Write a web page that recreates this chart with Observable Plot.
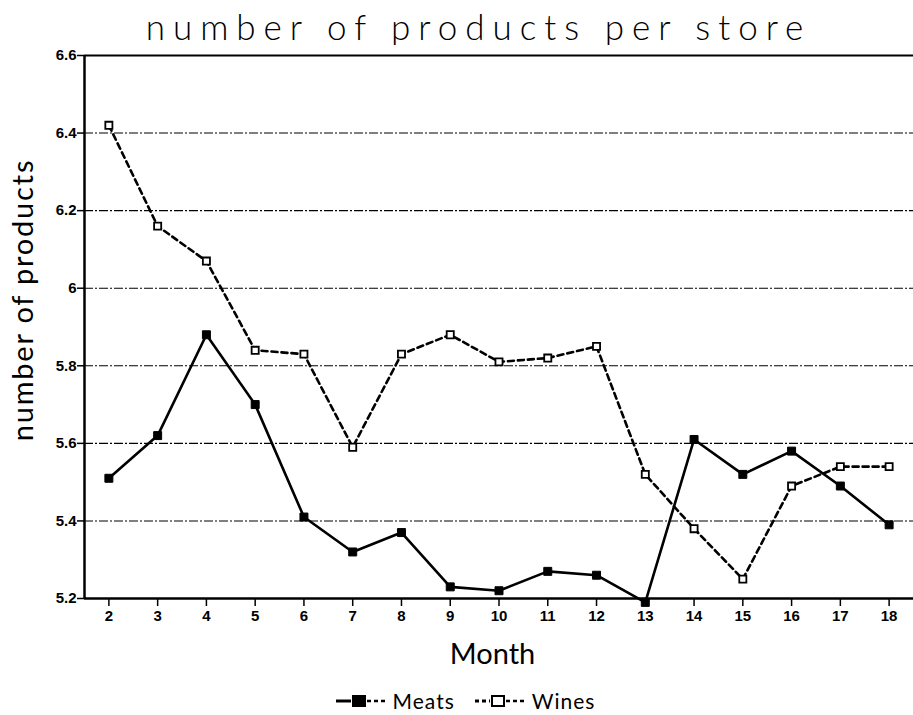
<!DOCTYPE html>
<html>
<head>
<meta charset="utf-8">
<script src="https://cdn.jsdelivr.net/npm/d3@7"></script>
<script src="https://cdn.jsdelivr.net/npm/@observablehq/plot@0.6"></script>
<style>
  body { margin: 0; background: #fff; }
  #wrap { position: relative; width: 913px; height: 715px; overflow: hidden; background: #fff; }
  #title { position: absolute; left: 0; top: 4px; width: 913px; text-align: center; font-family: Lato, "DejaVu Sans", sans-serif; font-weight: 300; font-size: 35px; letter-spacing: 8px; line-height: 44px; transform: translateX(22px); color: #000; }
  #chart { position: absolute; left: 0; top: 45px; }
  #ylabel { position: absolute; left: -178px; top: 283px; width: 400px; height: 34px; line-height: 34px; text-align: center; font-family: Lato, "DejaVu Sans", sans-serif; font-weight: 400; font-size: 29px; letter-spacing: 1.8px; transform: rotate(-90deg); color: #000; }
  #xlabel { position: absolute; left: 0; top: 636px; width: 913px; text-align: center; font-family: Lato, "DejaVu Sans", sans-serif; font-weight: 400; font-size: 29px; line-height: 34px; transform: translateX(36px); color: #000; }
  #legend { position: absolute; left: 0; top: 688px; width: 913px; display: flex; justify-content: center; align-items: center; gap: 6px; font-family: Lato, "DejaVu Sans", sans-serif; font-size: 21px; letter-spacing: 1px; transform: translateX(8px); color: #000; }
  #legend span.item { display: inline-flex; align-items: center; gap: 5px; }
</style>
</head>
<body>
<div id="wrap">
  <div id="title">number of products per store</div>
  <div id="chart"></div>
  <div id="ylabel"></div>
  <div id="xlabel">Month</div>
  <div id="legend"></div>
</div>
<script>
const months = [2, 3, 4, 5, 6, 7, 8, 9, 10, 11, 12, 13, 14, 15, 16, 17, 18];
const meats = [5.51, 5.62, 5.88, 5.70, 5.41, 5.32, 5.37, 5.23, 5.22, 5.27, 5.26, 5.19, 5.61, 5.52, 5.58, 5.49, 5.39];
const wines = [6.42, 6.16, 6.07, 5.84, 5.83, 5.59, 5.83, 5.88, 5.81, 5.82, 5.85, 5.52, 5.38, 5.25, 5.49, 5.54, 5.54];
const yTicks = [5.2, 5.4, 5.6, 5.8, 6.0, 6.2, 6.4, 6.6];
const gridTicks = [5.4, 5.6, 5.8, 6.0, 6.2, 6.4];
const seriesNames = ["Meats", "Wines"];
const yLabel = "number of products";

const meatData = months.map((m, i) => ({month: m, value: meats[i]}));
const wineData = months.map((m, i) => ({month: m, value: wines[i]}));

const tickFont = '"Liberation Sans Narrow", "Liberation Sans", Arial, sans-serif';

const chart = Plot.plot({
  width: 913,
  height: 585,
  marginTop: 10,
  marginBottom: 32,
  marginLeft: 84,
  marginRight: 0,
  x: {domain: [1.5, 18.5]},
  y: {domain: [5.2, 6.6]},
  style: {background: "#fff", color: "#000", overflow: "visible"},
  marks: [
    Plot.ruleY(gridTicks, {stroke: "#000", strokeWidth: 1.1, strokeDasharray: "9,2,2,2"}),
    Plot.ruleY([6.6], {stroke: "#000", strokeWidth: 2}),
    Plot.ruleY([5.2], {stroke: "#000", strokeWidth: 2.5}),
    Plot.ruleX([1.5], {stroke: "#000", strokeWidth: 2.5}),
    Plot.axisY({ticks: yTicks, tickSize: 7, tickPadding: 1, tickFormat: d => String(+d.toFixed(1)), label: null,
      fontSize: 15, fontWeight: "bold", fontFamily: tickFont, strokeWidth: 1.5}),
    Plot.axisX({ticks: months, tickSize: 8, tickPadding: 4, tickFormat: d => String(d), label: null,
      fontSize: 15, fontWeight: "bold", fontFamily: tickFont, strokeWidth: 1.5}),
    Plot.line(meatData, {x: "month", y: "value", stroke: "#000", strokeWidth: 2.6}),
    Plot.line(wineData, {x: "month", y: "value", stroke: "#000", strokeWidth: 2.6, strokeDasharray: "6,4"}),
    Plot.dot(meatData, {x: "month", y: "value", symbol: "square", r: 4.5, fill: "#000", stroke: "#000", strokeWidth: 1}),
    Plot.dot(wineData, {x: "month", y: "value", symbol: "square", r: 4, fill: "#fff", stroke: "#000", strokeWidth: 1.8})
  ]
});
document.getElementById("chart").appendChild(chart);
document.getElementById("ylabel").textContent = yLabel;

const sw = (filled) => `<svg width="54" height="16" viewBox="0 0 54 16">
  <line x1="2" y1="8" x2="17" y2="8" stroke="#000" stroke-width="3" ${filled ? "" : 'stroke-dasharray="4,3"'}/>
  <line x1="33" y1="8" x2="52" y2="8" stroke="#000" stroke-width="2.5" stroke-dasharray="4,3"/>
  <rect x="19" y="3" width="12" height="10" fill="${filled ? "#000" : "#fff"}" stroke="#000" stroke-width="2"/>
</svg>`;
document.getElementById("legend").innerHTML =
  `<span class="item">${sw(true)}<span>${seriesNames[0]}</span></span>` +
  `<span class="item" style="margin-left:12px">${sw(false)}<span>${seriesNames[1]}</span></span>`;
</script>
</body>
</html>
